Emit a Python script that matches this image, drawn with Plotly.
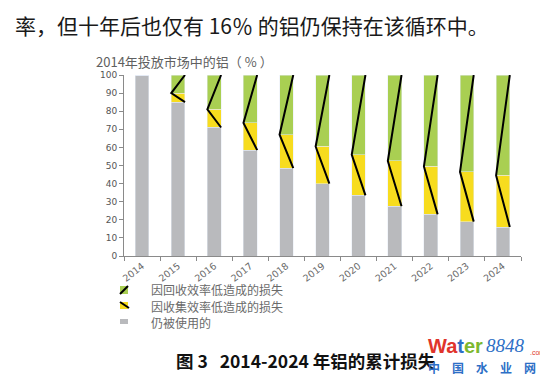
import plotly.graph_objects as go

# ---- data ----
years = ["2014", "2015", "2016", "2017", "2018", "2019", "2020", "2021", "2022", "2023", "2024"]
still_used = [100, 85, 71, 58.5, 48.5, 40, 33.5, 27.5, 23, 19, 16]
collection_loss = [0, 5, 10, 15, 18.5, 20.5, 22.5, 25, 26.5, 27.5, 28.5]
recycling_loss = [0, 10, 19, 26.5, 33, 39.5, 44, 47.5, 50.5, 53.5, 55.5]

legend_labels = ["因回收效率低造成的损失", "因收集效率低造成的损失", "仍被使用的"]
y_title = "2014年投放市场中的铝（ % ）"
top_text = "率，但十年后也仅有 16％ 的铝仍保持在该循环中。"
caption = "图 3   2014-2024 年铝的累计损失"

GRAY = "#b9babd"
YELLOW = "#f7dc1e"
GREEN = "#a9cf52"
TXT = "#6a6a6a"
CJK = "Noto Sans CJK SC"
NUM = "DejaVu Sans"

BAR_W = 0.38

W, H = 548, 375
L, R, T, B = 116, 35, 67, 127
PW, PH = W - L - R, H - T - B


def px(x):
    return (x - L) / PW


def py(y):
    return (H - B - y) / PH


fig = go.Figure()
fig.add_trace(go.Bar(x=years, y=still_used, marker_color=GRAY, width=BAR_W,
                     name=legend_labels[2], showlegend=False))
fig.add_trace(go.Bar(x=years, y=collection_loss, marker_color=YELLOW, width=BAR_W,
                     name=legend_labels[1], showlegend=False))
fig.add_trace(go.Bar(x=years, y=recycling_loss, marker_color=GREEN, width=BAR_W,
                     name=legend_labels[0], showlegend=False))

# zig-zag strokes drawn across each bar, from the data
lx, ly = [], []
for i in range(1, len(years)):
    top = still_used[i] + collection_loss[i] + recycling_loss[i]
    mid = still_used[i] + collection_loss[i]
    lx += [i + BAR_W / 2, i - BAR_W / 2, i + BAR_W / 2, None]
    ly += [top, mid, still_used[i], None]
fig.add_trace(go.Scatter(x=lx, y=ly, xaxis="x2", mode="lines",
                         line=dict(color="black", width=2), showlegend=False,
                         hoverinfo="skip"))

fig.update_layout(
    width=W, height=H,
    margin=dict(l=L, r=R, t=T, b=B, autoexpand=False),
    paper_bgcolor="white", plot_bgcolor="white",
    barmode="stack",
    showlegend=False,
    xaxis=dict(type="category", categoryorder="array", categoryarray=years,
               range=[-0.5, len(years) - 0.5], tickson="boundaries",
               ticks="outside", ticklen=4, tickcolor="#8a8a8a",
               showline=True, linecolor="#8a8a8a", linewidth=1,
               tickangle=-38, tickfont=dict(family=NUM, size=9.5, color=TXT),
               showgrid=False, zeroline=False, automargin=False),
    xaxis2=dict(overlaying="x", range=[-0.5, len(years) - 0.5], visible=False),
    yaxis=dict(range=[0, 100], dtick=10, ticks="outside", ticklen=4,
               tickcolor="#8a8a8a", showline=True, linecolor="#8a8a8a",
               linewidth=1, showgrid=False, zeroline=False, automargin=False,
               tickfont=dict(family=NUM, size=9, color="#555")),
)

ann = []
ann.append(dict(text=top_text, x=px(5), y=py(17), xref="paper", yref="paper",
                xanchor="left", yanchor="middle", showarrow=False,
                font=dict(family=CJK, size=21, color="#1a1a1a")))
ann.append(dict(text=y_title, x=px(86), y=py(53), xref="paper", yref="paper",
                xanchor="left", yanchor="middle", showarrow=False,
                font=dict(family=CJK, size=13, color="#606060")))
for k, yy in enumerate([281, 298, 314]):
    ann.append(dict(text=legend_labels[k], x=px(141), y=py(yy), xref="paper", yref="paper",
                    xanchor="left", yanchor="middle", showarrow=False,
                    font=dict(family=CJK, size=12, color=TXT)))
ann.append(dict(text="<b>" + caption + "</b>", x=px(166), y=py(352), xref="paper", yref="paper",
                xanchor="left", yanchor="middle", showarrow=False,
                font=dict(family=CJK, size=17.5, color="#111")))
# watermark
ann.append(dict(text='<b><span style="color:#e0342b">Wa</span><span style="color:#2d6fc6">t</span>'
                     '<span style="color:#7cb82f">er</span></b>',
                x=px(418), y=py(338), xref="paper", yref="paper", xanchor="left", yanchor="middle",
                showarrow=False, font=dict(family="Liberation Sans", size=20)))
ann.append(dict(text="<i>8848</i>", x=px(476), y=py(337), xref="paper", yref="paper",
                xanchor="left", yanchor="middle", showarrow=False,
                font=dict(family="Liberation Serif", size=19, color="#2d6fc6")))
ann.append(dict(text=".com", x=px(520), y=py(344), xref="paper", yref="paper",
                xanchor="left", yanchor="middle", showarrow=False,
                font=dict(family="Liberation Sans", size=7, color="#e0342b")))
ann.append(dict(text="<b>中　国　水　业　网</b>", x=px(418), y=py(359), xref="paper", yref="paper",
                xanchor="left", yanchor="middle", showarrow=False,
                font=dict(family=CJK, size=12, color="#2d6fc6")))
fig.update_layout(annotations=ann)

# legend swatches
shapes = [
    dict(type="rect", xref="paper", yref="paper", x0=px(112), x1=px(120), y0=py(286), y1=py(278),
         fillcolor=GREEN, line=dict(width=0)),
    dict(type="line", xref="paper", yref="paper", x0=px(112), x1=px(120), y0=py(286), y1=py(278),
         line=dict(color="black", width=2)),
    dict(type="rect", xref="paper", yref="paper", x0=px(112), x1=px(120), y0=py(301), y1=py(294),
         fillcolor=YELLOW, line=dict(width=0)),
    dict(type="line", xref="paper", yref="paper", x0=px(112), x1=px(121), y0=py(294), y1=py(300),
         line=dict(color="black", width=2)),
    dict(type="rect", xref="paper", yref="paper", x0=px(112), x1=px(120), y0=py(316), y1=py(311),
         fillcolor=GRAY, line=dict(width=0)),
]
fig.update_layout(shapes=shapes)

fig.write_html("out.html")
